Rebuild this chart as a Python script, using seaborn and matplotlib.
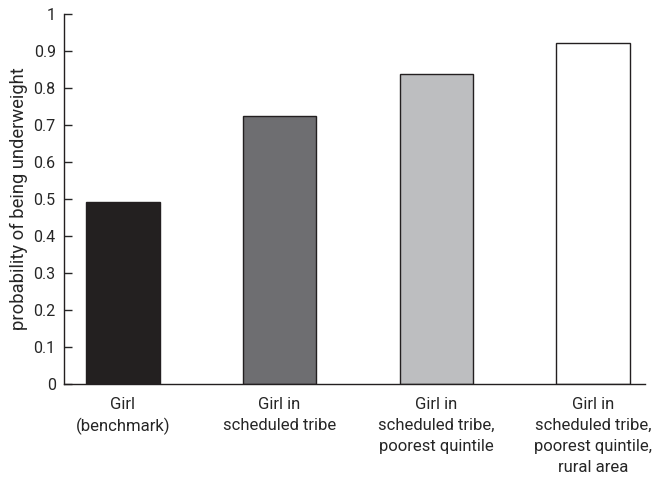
import pandas as pd
import matplotlib.pyplot as plt
import seaborn as sns

groups = ['Girl\n(benchmark)', 'Girl in\nscheduled tribe',
          'Girl in\nscheduled tribe,\npoorest quintile',
          'Girl in\nscheduled tribe,\npoorest quintile,\nrural area']
probs = [0.492, 0.724, 0.838, 0.922]
bar_colors = ['#231f20', '#6d6e71', '#bcbec0', '#ffffff']

df = pd.DataFrame({'group': groups, 'prob': probs})

sns.set_style('ticks')
plt.rcParams['font.family'] = ['Roboto', 'DejaVu Sans']

fig = plt.figure(figsize=(6.61, 4.79), dpi=100)
ax = fig.add_axes([0.0968, 0.1983, 0.879, 0.7724])
sns.barplot(data=df, x='group', y='prob', hue='group', palette=bar_colors,
            edgecolor='#231f20', linewidth=1.0, width=0.47, legend=False, ax=ax)

ax.set_ylim(0, 1)
ax.set_xlim(-0.374, 3.33)
ax.set_yticks([i / 10 for i in range(11)])
ax.set_yticklabels(['0'] + [f'0.{i}' for i in range(1, 10)] + ['1'])
ax.set_xlabel('')
ax.set_ylabel('probability of being underweight', fontsize=13.2, labelpad=4)
ax.tick_params(axis='y', direction='in', length=6, width=1, labelsize=11.5, pad=6)
ax.tick_params(axis='x', length=0, labelsize=12, pad=9)
for lbl in ax.get_xticklabels():
    lbl.set_linespacing(1.5)
for s in ['top', 'right']:
    ax.spines[s].set_visible(False)
for s in ['left', 'bottom']:
    ax.spines[s].set_linewidth(1)
    ax.spines[s].set_color('#231f20')

fig.savefig('out.png', dpi=100)
